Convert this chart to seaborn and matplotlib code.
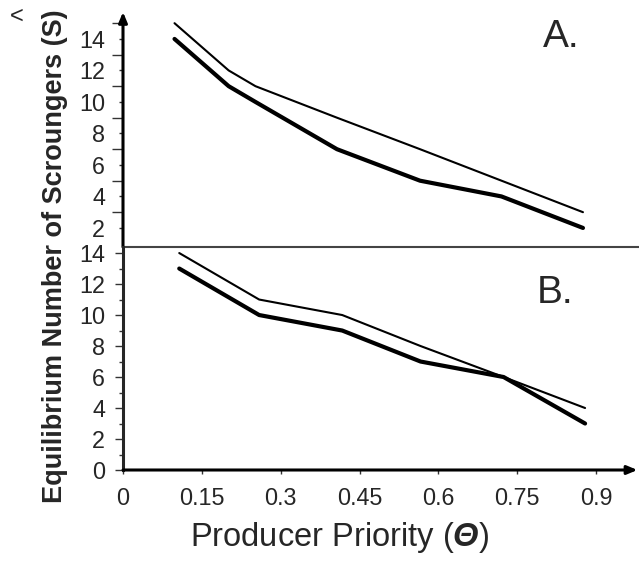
import numpy as np
import pandas as pd
import seaborn as sns
import matplotlib.pyplot as plt
from matplotlib.ticker import MultipleLocator, FixedLocator

# 数据
theta_a = [0.098, 0.201, 0.252, 0.407, 0.565, 0.72, 0.875]
thin_a = [15, 12, 11, 9, 7, 5, 3]
thick_a = [14, 11, 10, 7, 5, 4, 2]

theta_b = [0.107, 0.259, 0.417, 0.566, 0.724, 0.879]
thin_b = [14, 11, 10, 8, 6, 4]
thick_b = [13, 10, 9, 7, 6, 3]

x_ticks = [0, 0.15, 0.3, 0.45, 0.6, 0.75, 0.9]
x_tick_labels = ['0', '0.15', '0.3', '0.45', '0.6', '0.75', '0.9']
y_ticks = [0, 2, 4, 6, 8, 10, 12, 14]

sns.set_style("white")
plt.rcParams['font.family'] = ['Liberation Sans', 'DejaVu Sans']
plt.rcParams['mathtext.fontset'] = 'custom'
plt.rcParams['mathtext.rm'] = 'Liberation Sans:italic:bold'

fig = plt.figure(figsize=(6.39, 5.63), dpi=100)
W, H = 639, 563

def px_axes(left, top, right, bottom):
    return fig.add_axes([left / W, 1 - bottom / H, (right - left) / W, (bottom - top) / H])

ax_a = px_axes(123, 12, 639, 247)
ax_b = px_axes(123, 247, 639, 470)

df_a = pd.DataFrame({'theta': theta_a, 'thin': thin_a, 'thick': thick_a})
df_b = pd.DataFrame({'theta': theta_b, 'thin': thin_b, 'thick': thick_b})

for ax, df in ((ax_a, df_a), (ax_b, df_b)):
    sns.lineplot(data=df, x='theta', y='thin', ax=ax, color='black', lw=1.5)
    sns.lineplot(data=df, x='theta', y='thick', ax=ax, color='black', lw=3.0)
    ax.set_xlim(0, (639 - 122) / 526.7)
    ax.set_xlabel('')
    ax.set_ylabel('')
    ax.set_facecolor('none')
    ax.tick_params(which='both', left=True, bottom=True)
    for s in ('top', 'right'):
        ax.spines[s].set_visible(False)

# 上图 A
ax_a.set_ylim(0.79, 15.71)
ax_a.set_xticks([])
ax_a.yaxis.set_major_locator(FixedLocator([2, 4, 6, 8, 10, 12, 14]))
ax_a.yaxis.set_minor_locator(FixedLocator([3, 5, 7, 9, 11, 13, 15]))
ax_a.tick_params(axis='y', which='major', length=3, width=1, color='#333333',
                 labelsize=16.8, pad=10)
ax_a.tick_params(axis='y', which='minor', length=8, width=1, color='#333333')
ax_a.spines['left'].set_visible(False)
ax_a.spines['bottom'].set_color('#444444')
ax_a.spines['bottom'].set_linewidth(1.5)
ax_a.annotate('', xy=(0, 1.0), xytext=(0, 0), xycoords='axes fraction',
              arrowprops=dict(arrowstyle='-|>,head_length=0.6,head_width=0.25',
                              color='black', lw=2.2, shrinkA=0, shrinkB=0),
              annotation_clip=False)

# 下图 B
ax_b.set_ylim(0, 14.39)
ax_b.set_yticks(y_ticks)
ax_b.yaxis.set_minor_locator(MultipleLocator(1))
ax_b.tick_params(axis='y', which='major', length=6, width=1, color='#333333',
                 labelsize=16.8, pad=7)
ax_b.tick_params(axis='y', which='minor', length=3, width=1, color='#333333')
ax_b.set_xticks(x_ticks)
ax_b.set_xticklabels(x_tick_labels)
ax_b.tick_params(axis='x', length=3, width=1, color='#333333', labelsize=16.8, pad=9)
ax_b.spines['left'].set_linewidth(2.2)
ax_b.spines['bottom'].set_visible(False)
ax_b.annotate('', xy=(0.997, 0), xytext=(0, 0), xycoords='axes fraction',
              arrowprops=dict(arrowstyle='-|>,head_length=0.6,head_width=0.25',
                              color='black', lw=2.2, shrinkA=0, shrinkB=0),
              annotation_clip=False)

fig.text(543 / W, 1 - 47 / H, 'A.', fontsize=28, ha='left', va='baseline')
fig.text(537 / W, 1 - 303 / H, 'B.', fontsize=28, ha='left', va='baseline')
fig.text(340 / W, 1 - 546 / H, r'Producer Priority ($\Theta$)', fontsize=23.5,
         ha='center', va='baseline')
fig.text(55 / W, 1 - 256 / H, 'Equilibrium Number of Scroungers (S)', fontsize=19.5,
         fontweight='bold', rotation=90, ha='center', va='center')
fig.text(17 / W, 1 - 17 / H, '<', fontsize=17, ha='center', va='center')

fig.savefig('out.png', dpi=100)
